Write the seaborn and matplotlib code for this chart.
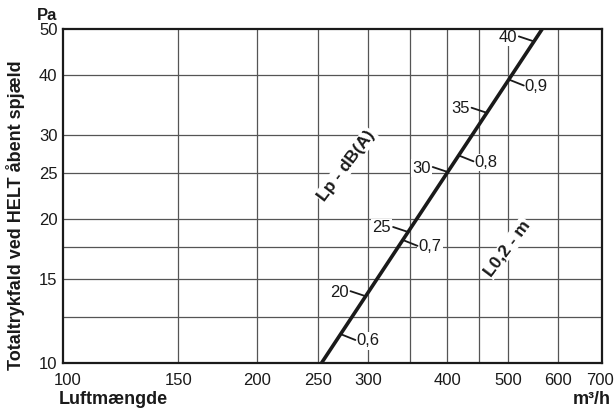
import numpy as np
import matplotlib
matplotlib.use("Agg")
import matplotlib.pyplot as plt
from matplotlib.ticker import NullFormatter, NullLocator, FixedLocator, FixedFormatter
import seaborn as sns

# data (log-log)
flow = [253, 566]          # m3/h
pressure = [10, 50]        # Pa

lp_flow = [297, 347, 401, 462, 549]
lp_pressure = [13.8, 18.8, 25.1, 33.4, 47.1]
lp_labels = ["20", "25", "30", "35", "40"]

l02_flow = [271, 340, 417, 501]
l02_pressure = [11.5, 18.1, 27.2, 39.2]
l02_labels = ["0,6", "0,7", "0,8", "0,9"]

x_ticks = [100, 150, 200, 250, 300, 400, 500, 600, 700]
y_ticks = [10, 15, 20, 25, 30, 40, 50]
x_grid = [150, 200, 250, 300, 350, 400, 450, 500, 600]
y_grid = [12.5, 15, 17.5, 20, 25, 30, 40]

sns.set_style("white")
plt.rcParams["font.family"] = ["Liberation Sans", "DejaVu Sans"]
txt = "#1a1a1a"

fig = plt.figure(figsize=(6.14, 4.12), dpi=100)
ax = fig.add_axes([63/614, 1-363/412, (602-63)/614, (363-29)/412])
ax.set_xscale("log")
ax.set_yscale("log")
ax.set_xlim(98.5, 704)
ax.set_ylim(10, 50)

sns.lineplot(x=flow, y=pressure, ax=ax, color="#1a1a1a", lw=2.6, zorder=6)

# grid lines
for v in x_grid:
    ax.axvline(v, color="#555555", lw=0.9, zorder=1)
for v in y_grid:
    ax.axhline(v, color="#555555", lw=0.9, zorder=1)

ax.xaxis.set_major_locator(FixedLocator(x_ticks))
ax.xaxis.set_major_formatter(FixedFormatter([str(v) for v in x_ticks]))
ax.yaxis.set_major_locator(FixedLocator(y_ticks))
ax.yaxis.set_major_formatter(FixedFormatter([str(v) for v in y_ticks]))
ax.xaxis.set_minor_locator(NullLocator())
ax.yaxis.set_minor_locator(NullLocator())
ax.grid(False)
ax.tick_params(which="both", length=0, labelsize=12, colors=txt)
ax.tick_params(axis="x", pad=7)
ax.tick_params(axis="y", pad=4)
for s in ax.spines.values():
    s.set_color("#1a1a1a")
    s.set_linewidth(1.6)
    s.set_zorder(7)

bb = dict(facecolor="white", edgecolor="none", pad=0.8)

# Lp ticks (left of line)
for q, p, lab in zip(lp_flow, lp_pressure, lp_labels):
    ax.annotate("", xy=(q, p), xytext=(-15, 5), textcoords="offset pixels",
                arrowprops=dict(arrowstyle="-", lw=1.3, color=txt, shrinkA=0, shrinkB=0), zorder=5)
    ax.annotate(lab, xy=(q, p), xytext=(-17, 4), textcoords="offset pixels",
                ha="right", va="center", fontsize=12, color=txt, bbox=bb, zorder=4)

# L0,2 ticks (right of line)
for q, p, lab in zip(l02_flow, l02_pressure, l02_labels):
    ax.annotate("", xy=(q, p), xytext=(15, -6), textcoords="offset pixels",
                arrowprops=dict(arrowstyle="-", lw=1.3, color=txt, shrinkA=0, shrinkB=0), zorder=5)
    ax.annotate(lab, xy=(q, p), xytext=(16, -7), textcoords="offset pixels",
                ha="left", va="center", fontsize=12, color=txt, bbox=bb, zorder=4)

ax.text(277, 25.9, "Lp - dB(A)", rotation=53, ha="center", va="center", fontsize=12.5,
        fontweight="bold", color=txt, bbox=bb, zorder=4, rotation_mode="anchor")
ax.text(498, 17.4, "L0,2 - m", rotation=53, ha="center", va="center", fontsize=12.5,
        fontweight="bold", color=txt, bbox=bb, zorder=4, rotation_mode="anchor")

fig.text(57/614, 1-16/412, "Pa", ha="right", va="center", fontsize=12, fontweight="bold", color=txt)
fig.text(59/614, 1-400/412, "Luftmængde", ha="left", va="center", fontsize=13, fontweight="bold", color=txt)
fig.text(611/614, 1-400/412, "m³/h", ha="right", va="center", fontsize=13, fontweight="bold", color=txt)
fig.text(16/614, 1-215/412, "Totaltrykfald ved HELT åbent spjæld", rotation=90, ha="center",
         va="center", fontsize=13, fontweight="bold", color=txt)

fig.savefig("out.png", dpi=100)
